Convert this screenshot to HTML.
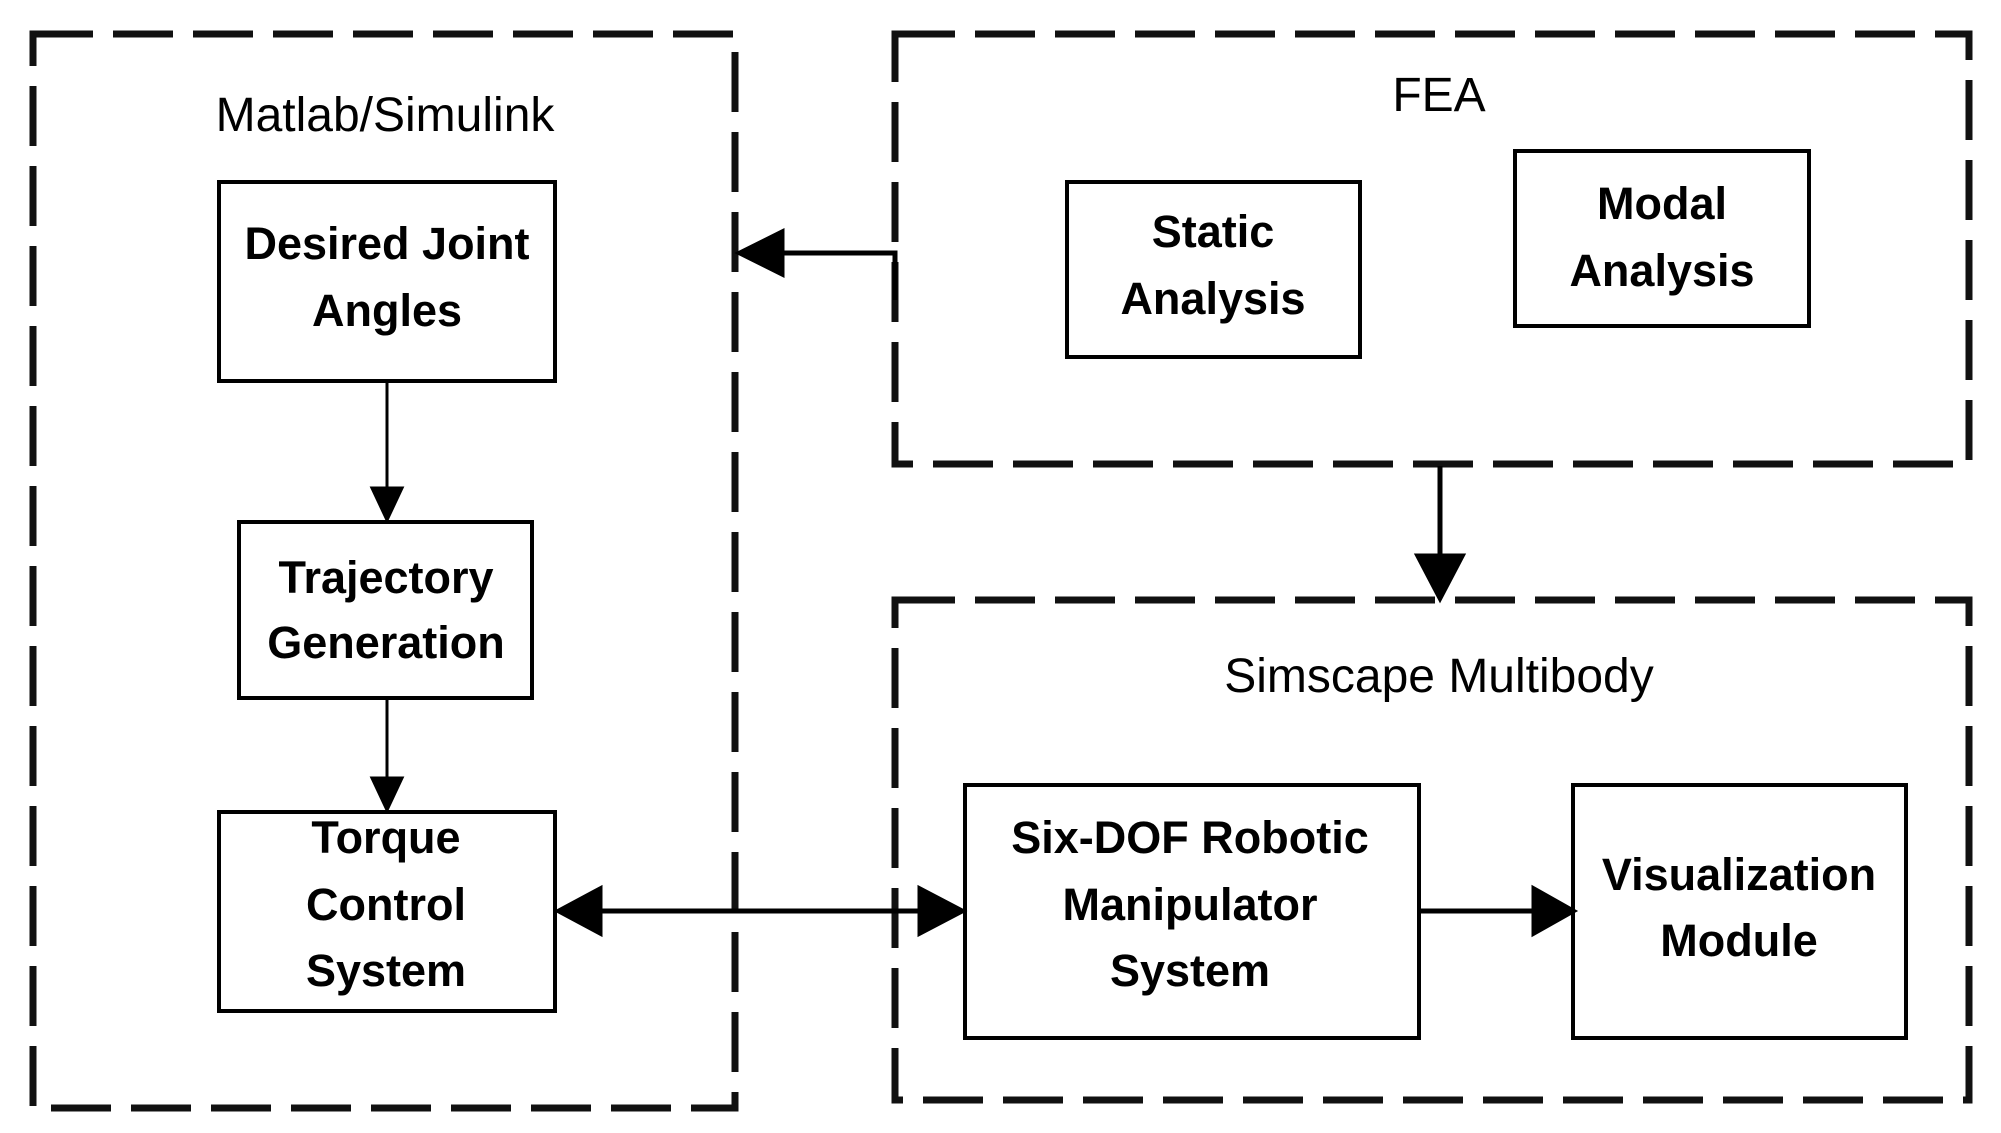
<!DOCTYPE html>
<html><head><style>html,body{margin:0;padding:0;background:#fff;}svg{display:block}</style></head>
<body>
<svg width="2001" height="1133" viewBox="0 0 2001 1133" xmlns="http://www.w3.org/2000/svg">
<g fill="none" stroke="#111" stroke-width="7" stroke-dasharray="60 20">
<rect x="33" y="34" width="702" height="1074"/>
<rect x="895" y="34" width="1074" height="430"/>
<rect x="895" y="600" width="1074" height="500"/>
</g>
<g fill="#fff" stroke="#000" stroke-width="4">
<rect x="219" y="182" width="336" height="199"/>
<rect x="239" y="522" width="293" height="176"/>
<rect x="219" y="812" width="336" height="199"/>
<rect x="1067" y="182" width="293" height="175"/>
<rect x="1515" y="151" width="294" height="175"/>
<rect x="965" y="785" width="454" height="253"/>
<rect x="1573" y="785" width="333" height="253"/>
</g>
<g stroke="#000" stroke-width="3" fill="#000">
<line x1="387" y1="381" x2="387" y2="490"/>
<path d="M372,488 L402,488 L387,520 z"/>
<line x1="387" y1="698" x2="387" y2="780"/>
<path d="M372,778 L402,778 L387,810 z"/>
</g>
<g stroke="#000" stroke-width="5" fill="#000">
<polyline points="895,300 895,253 780,253" fill="none"/>
<path d="M782,232 L782,274 L740,253 z"/>
<line x1="1440" y1="466" x2="1440" y2="560"/>
<path d="M1418,556 L1462,556 L1440,598 z"/>
<line x1="595" y1="911" x2="925" y2="911"/>
<path d="M600,889 L600,933 L559,911 z"/>
<path d="M920,889 L920,933 L962,911 z"/>
<line x1="1421" y1="911" x2="1540" y2="911"/>
<path d="M1534,889 L1534,933 L1573,911 z"/>
</g>
<g font-family="Liberation Sans, sans-serif" text-anchor="middle" fill="#000">
<text x="385" y="131" font-size="48">Matlab/Simulink</text>
<text x="1439" y="111" font-size="48">FEA</text>
<text x="1439" y="692" font-size="48">Simscape Multibody</text>
<g font-weight="bold" font-size="45">
<text x="387" y="259">Desired Joint</text>
<text x="387" y="326">Angles</text>
<text x="386" y="593">Trajectory</text>
<text x="386" y="658">Generation</text>
<text x="386" y="853">Torque</text>
<text x="386" y="920">Control</text>
<text x="386" y="986">System</text>
<text x="1213" y="247">Static</text>
<text x="1213" y="314">Analysis</text>
<text x="1662" y="219">Modal</text>
<text x="1662" y="286">Analysis</text>
<text x="1190" y="853">Six-DOF Robotic</text>
<text x="1190" y="920">Manipulator</text>
<text x="1190" y="986">System</text>
<text x="1739" y="890">Visualization</text>
<text x="1739" y="956">Module</text>
</g>
</g>
</svg>
</body></html>
